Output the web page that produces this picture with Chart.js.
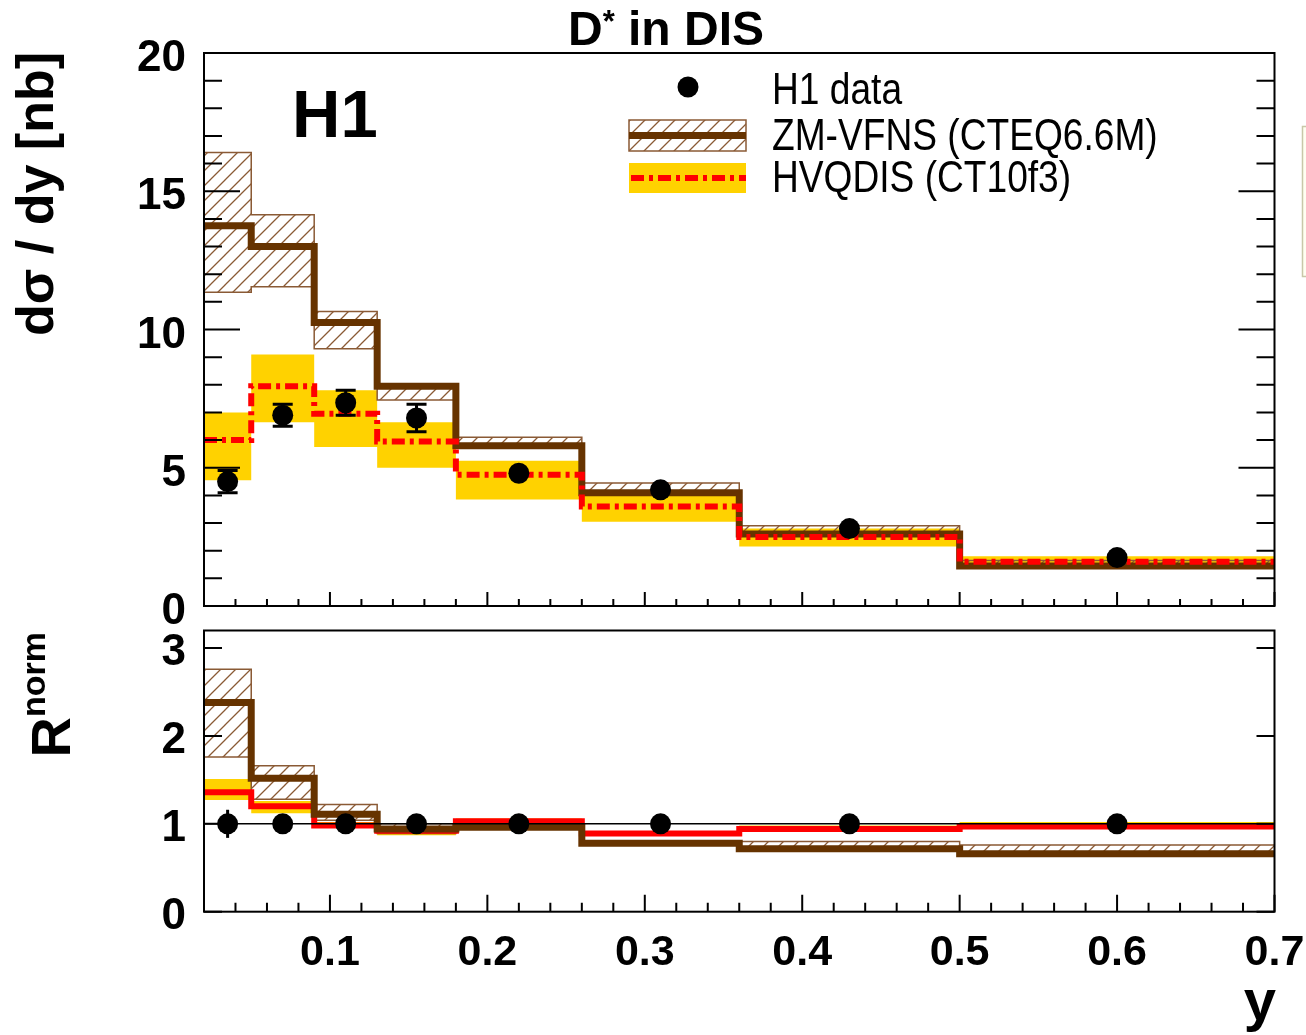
<!DOCTYPE html>
<html>
<head>
<meta charset="utf-8">
<script src="https://cdn.jsdelivr.net/npm/chart.js@4.4.1/dist/chart.umd.min.js"></script>
<style>
  html, body { margin: 0; padding: 0; background: #ffffff; }
  #wrap { position: relative; width: 1306px; height: 1035px; overflow: hidden; background: #fff; }
  canvas { position: absolute; left: 0; }
  #top { top: 0; }
  #bot { top: 620px; }
</style>
</head>
<body>
<div id="wrap">
  <canvas id="bot" width="1306" height="415"></canvas>
  <canvas id="top" width="1306" height="636"></canvas>
</div>
<script>
// ---- binning in inelasticity y ----
const binEdges   = [0.02, 0.05, 0.09, 0.13, 0.18, 0.26, 0.36, 0.50, 0.70];
const binCentres = [0.035, 0.07, 0.11, 0.155, 0.22, 0.31, 0.43, 0.60];

// ---- dsigma/dy [nb] ----
const h1Xsec     = [4.5, 6.9, 7.35, 6.8, 4.8, 4.2, 2.8, 1.75];
const h1XsecErr  = [0.4, 0.4, 0.45, 0.5, 0.2, 0.15, 0.1, 0.08];
const zmXsec     = [13.75, 13.0, 10.25, 7.95, 5.8, 4.1, 2.6, 1.45];
const zmXsecLo   = [11.35, 11.55, 9.3, 7.45, 5.8, 4.1, 2.6, 1.45];
const zmXsecHi   = [16.4, 14.15, 10.65, 7.95, 6.1, 4.45, 2.9, 1.65];
const hvqXsec    = [6.0, 7.95, 6.95, 5.95, 4.75, 3.6, 2.5, 1.6];
const hvqXsecLo  = [4.55, 6.65, 5.75, 5.0, 3.85, 3.05, 2.15, 1.42];
const hvqXsecHi  = [7.0, 9.1, 7.8, 6.65, 5.25, 4.1, 2.8, 1.8];

// ---- normalised ratio R^norm ----
const h1Ratio     = [1, 1, 1, 1, 1, 1, 1, 1];
const h1RatioErr  = [0.16, 0.03, 0.03, 0.03, 0.03, 0.03, 0.03, 0.04];
const zmRatio     = [2.38, 1.52, 1.11, 0.94, 0.96, 0.78, 0.715, 0.66];
const zmRatioLo   = [1.76, 1.28, 1.04, 0.89, 0.96, 0.78, 0.72, 0.67];
const zmRatioHi   = [2.76, 1.66, 1.22, 1.0, 0.99, 0.8, 0.8, 0.76];
const hvqRatio    = [1.36, 1.2, 0.98, 0.92, 1.03, 0.89, 0.94, 0.97];
const hvqRatioLo  = [1.27, 1.12, 0.96, 0.87, 1.0, 0.88, 0.93, 0.96];
const hvqRatioHi  = [1.51, 1.26, 1.02, 0.95, 1.06, 0.9, 0.98, 1.02];

// ---- axis ticks ----
const xMajorTicks  = [0.1, 0.2, 0.3, 0.4, 0.5, 0.6, 0.7];
const xTickLabels  = ['0.1', '0.2', '0.3', '0.4', '0.5', '0.6', '0.7'];
const yTopMajor    = [0, 5, 10, 15, 20];
const yTopLabels   = ['0', '5', '10', '15', '20'];
const yBotMajor    = [0, 1, 2, 3];
const yBotLabels   = ['0', '1', '2', '3'];

const BROWN = '#663300';
const HATCH_BROWN = '#8a5a35';
const YELLOW = '#ffd200';
const RED = '#ff0000';
const SANS = '"Liberation Sans", Arial, Helvetica, sans-serif';

// histogram outline points: one point per left bin edge plus the closing edge
function steps(vals) {
  const pts = vals.map((v, i) => ({ x: binEdges[i], y: v }));
  pts.push({ x: binEdges[binEdges.length - 1], y: vals[vals.length - 1] });
  return pts;
}
function points(vals) {
  return binCentres.map((x, i) => ({ x, y: vals[i] }));
}

// diagonal hatch used for the ZM-VFNS uncertainty band
function hatchPattern() {
  const c = document.createElement('canvas');
  c.width = 15; c.height = 15;
  const g = c.getContext('2d');
  g.strokeStyle = HATCH_BROWN;
  g.lineWidth = 1.3;
  g.beginPath();
  g.moveTo(-2, 17); g.lineTo(17, -2);
  g.moveTo(-2, 2); g.lineTo(2, -2);
  g.moveTo(13, 17); g.lineTo(17, 13);
  g.stroke();
  return g.createPattern(c, 'repeat');
}
const hatch = hatchPattern();

// frame, inward ticks and tick labels in the style of a ROOT pad
const rootFrame = {
  id: 'rootFrame',
  afterDraw(chart, args, o) {
    const { ctx, chartArea: a } = chart;
    const xs = chart.scales.x, ys = chart.scales.y;
    ctx.save();
    ctx.strokeStyle = '#000';
    ctx.lineWidth = 2;
    ctx.beginPath();
    // x ticks along the bottom edge
    for (let k = 1; k < 35; k++) {
      const v = 0.02 * k + 0.02;
      if (v > 0.7 + 1e-9) break;
      const px = xs.getPixelForValue(v);
      const major = xMajorTicks.some(t => Math.abs(t - v) < 1e-6);
      const len = major ? o.xMajorLen : o.xMinorLen;
      ctx.moveTo(px, a.bottom); ctx.lineTo(px, a.bottom - len);
    }
    // y ticks on left and right edges
    const yMin = ys.min, yMax = ys.max;
    for (let v = yMin; v <= yMax + 1e-9; v += o.yMinorStep) {
      const py = ys.getPixelForValue(v);
      const major = o.yMajor.some(t => Math.abs(t - v) < 1e-6);
      if (!major && !o.yMinorShown) continue;
      const len = major ? o.yMajorLen : o.yMinorLen;
      ctx.moveTo(a.left, py); ctx.lineTo(a.left + len, py);
      ctx.moveTo(a.right, py); ctx.lineTo(a.right - len, py);
    }
    ctx.stroke();
    ctx.strokeRect(a.left, a.top, a.right - a.left, a.bottom - a.top);

    ctx.fillStyle = '#000';
    ctx.font = 'bold ' + o.yFont + 'px ' + SANS;
    ctx.textAlign = 'right';
    ctx.textBaseline = 'middle';
    o.yMajor.forEach((v, i) => {
      ctx.fillText(o.yLabels[i], o.yLabelRight, ys.getPixelForValue(v) + o.yLabelShift);
    });
    if (o.xLabels) {
      ctx.font = 'bold ' + o.xFont + 'px ' + SANS;
      ctx.textAlign = 'center';
      ctx.textBaseline = 'middle';
      xMajorTicks.forEach((v, i) => {
        ctx.fillText(xTickLabels[i], xs.getPixelForValue(v), a.bottom + o.xLabelOffset);
      });
    }
    ctx.restore();
  }
};

// vertical error bars on the data points
const errorBars = {
  id: 'errorBars',
  afterDatasetsDraw(chart, args, o) {
    const { ctx } = chart;
    const xs = chart.scales.x, ys = chart.scales.y;
    ctx.save();
    ctx.strokeStyle = '#000';
    ctx.lineWidth = 3;
    o.values.forEach((v, i) => {
      const px = xs.getPixelForValue(binCentres[i]);
      const y1 = ys.getPixelForValue(v + o.errors[i]);
      const y2 = ys.getPixelForValue(v - o.errors[i]);
      ctx.beginPath();
      ctx.moveTo(px, y1); ctx.lineTo(px, y2);
      if (o.caps && (y2 - y1) / 2 > 9) {
        ctx.moveTo(px - 10, y1); ctx.lineTo(px + 10, y1);
        ctx.moveTo(px - 10, y2); ctx.lineTo(px + 10, y2);
      }
      ctx.stroke();
    });
    ctx.restore();
  }
};

// titles, legend and labels of the upper pad
const upperText = {
  id: 'upperText',
  afterDraw(chart) {
    const ctx = chart.ctx;
    ctx.save();
    ctx.fillStyle = '#000';
    ctx.textBaseline = 'alphabetic';

    // pad title  D* in DIS
    ctx.font = 'bold 48px ' + SANS;
    const wD = ctx.measureText('D').width;
    const wRest = ctx.measureText(' in DIS').width;
    ctx.font = 'bold 31px ' + SANS;
    const wStar = ctx.measureText('*').width;
    let x0 = 666 - (wD + wStar + wRest) / 2;
    ctx.font = 'bold 48px ' + SANS;
    ctx.textAlign = 'left';
    ctx.fillText('D', x0, 45);
    ctx.font = 'bold 31px ' + SANS;
    ctx.fillText('*', x0 + wD, 32);
    ctx.font = 'bold 48px ' + SANS;
    ctx.fillText(' in DIS', x0 + wD + wStar, 45);

    // experiment label
    ctx.font = 'bold 67px ' + SANS;
    ctx.fillText('H1', 292, 137);

    // y axis title
    ctx.save();
    ctx.translate(53, 52);
    ctx.rotate(-Math.PI / 2);
    ctx.textAlign = 'right';
    ctx.font = 'bold 52px ' + SANS;
    ctx.fillText('d\u03c3 / dy [nb]', 0, 0);
    ctx.restore();

    // legend
    ctx.beginPath();
    ctx.arc(688, 87, 10.5, 0, Math.PI * 2);
    ctx.fill();

    ctx.fillStyle = hatch;
    ctx.fillRect(629, 120, 117, 31);
    ctx.strokeStyle = HATCH_BROWN;
    ctx.lineWidth = 1.5;
    ctx.strokeRect(629, 120, 117, 31);
    ctx.strokeStyle = BROWN;
    ctx.lineWidth = 7;
    ctx.beginPath(); ctx.moveTo(629, 135.5); ctx.lineTo(746, 135.5); ctx.stroke();

    ctx.fillStyle = YELLOW;
    ctx.fillRect(629, 163, 117, 30);
    ctx.strokeStyle = RED;
    ctx.lineWidth = 6;
    ctx.setLineDash([13, 5, 4, 5]);
    ctx.beginPath(); ctx.moveTo(631, 178); ctx.lineTo(746, 178); ctx.stroke();
    ctx.setLineDash([]);

    ctx.fillStyle = '#000';
    ctx.font = '45px ' + SANS;
    const legendText = ['H1 data', 'ZM-VFNS (CTEQ6.6M)', 'HVQDIS (CT10f3)'];
    const legendY = [104, 150, 192];
    legendText.forEach((t, i) => {
      ctx.save();
      ctx.translate(772, legendY[i]);
      ctx.scale(0.825, 1);
      ctx.fillText(t, 0, 0);
      ctx.restore();
    });

    // neighbouring box at the pad edge
    ctx.fillStyle = '#fffff2';
    ctx.fillRect(1302, 126, 10, 150);
    ctx.strokeStyle = '#c8c8a8';
    ctx.lineWidth = 1.5;
    ctx.strokeRect(1302.5, 126.5, 10, 150);
    ctx.restore();
  }
};

// labels of the lower pad
const lowerText = {
  id: 'lowerText',
  afterDraw(chart) {
    const ctx = chart.ctx;
    ctx.save();
    ctx.fillStyle = '#000';
    ctx.textBaseline = 'alphabetic';

    // R^norm, rotated
    ctx.save();
    ctx.translate(70, 12);
    ctx.rotate(-Math.PI / 2);
    ctx.font = 'bold 34px ' + SANS;
    const wn = ctx.measureText('norm').width;
    ctx.font = 'bold 56px ' + SANS;
    const wr = ctx.measureText('R').width;
    ctx.textAlign = 'left';
    ctx.fillText('R', -(wn + wr), 0);
    ctx.font = 'bold 34px ' + SANS;
    ctx.fillText('norm', -wn, -25);
    ctx.restore();

    // x axis title
    ctx.font = 'bold 58px ' + SANS;
    ctx.textAlign = 'right';
    ctx.fillText('y', 1276, 400);
    ctx.restore();
  }
};

function baseOptions(yMax, pad) {
  return {
    responsive: false,
    animation: false,
    events: [],
    layout: { padding: pad },
    scales: {
      x: { type: 'linear', min: 0.02, max: 0.7, display: false },
      y: { type: 'linear', min: 0, max: yMax, display: false }
    },
    elements: { line: { tension: 0 }, point: { radius: 0 } },
    plugins: { legend: { display: false }, tooltip: { enabled: false } }
  };
}

function line(data, extra) {
  return Object.assign({
    data: data, stepped: true, pointRadius: 0, fill: false, clip: 0,
    borderColor: 'rgba(0,0,0,0)', borderWidth: 0, backgroundColor: 'rgba(0,0,0,0)'
  }, extra);
}

// ---------------- upper pad: cross section ----------------
const topOpts = baseOptions(20, { left: 204, right: 31.5, top: 53, bottom: 30 });
topOpts.plugins.rootFrame = {
  yMajor: yTopMajor, yLabels: yTopLabels, yMinorStep: 1, yMinorShown: true,
  yMajorLen: 36, yMinorLen: 18, xMajorLen: 14, xMinorLen: 7,
  yFont: 44, yLabelRight: 186, yLabelShift: 6, xLabels: false
};
topOpts.plugins.errorBars = { values: h1Xsec, errors: h1XsecErr, caps: true };

new Chart(document.getElementById('top'), {
  type: 'line',
  data: {
    datasets: [
      { label: 'H1 data', type: 'scatter', data: points(h1Xsec), pointRadius: 10.5,
        backgroundColor: '#000', borderWidth: 0, order: 0 },
      line(steps(hvqXsec), { label: 'HVQDIS (CT10f3)', borderColor: RED, borderWidth: 6,
        borderDash: [13, 5, 4, 5], order: 1 }),
      line(steps(zmXsec), { label: 'ZM-VFNS (CTEQ6.6M)', borderColor: BROWN, borderWidth: 7, order: 2 }),
      line(steps(zmXsecLo), { label: 'ZM-VFNS low', borderColor: HATCH_BROWN, borderWidth: 1.5, order: 3 }),
      line(steps(zmXsecHi), { label: 'ZM-VFNS high', borderColor: HATCH_BROWN, borderWidth: 1.5,
        fill: '-1', backgroundColor: hatch, order: 3 }),
      line(steps(hvqXsecLo), { label: 'HVQDIS low', order: 4 }),
      line(steps(hvqXsecHi), { label: 'HVQDIS high', fill: '-1', backgroundColor: YELLOW, order: 4 })
    ]
  },
  options: topOpts,
  plugins: [rootFrame, errorBars, upperText]
});

// ---------------- lower pad: normalised ratio ----------------
const botOpts = baseOptions(3.2, { left: 204, right: 31.5, top: 10, bottom: 123.3 });
botOpts.plugins.rootFrame = {
  yMajor: yBotMajor, yLabels: yBotLabels, yMinorStep: 1, yMinorShown: false,
  yMajorLen: 18, yMinorLen: 9, xMajorLen: 17, xMinorLen: 9,
  yFont: 44, yLabelRight: 186, yLabelShift: 5,
  xLabels: true, xFont: 43, xLabelOffset: 41
};
botOpts.plugins.errorBars = { values: h1Ratio, errors: h1RatioErr, caps: false };

new Chart(document.getElementById('bot'), {
  type: 'line',
  data: {
    datasets: [
      { label: 'H1 data', type: 'scatter', data: points(h1Ratio), pointRadius: 10.5,
        backgroundColor: '#000', borderWidth: 0, order: 0 },
      line([{ x: 0.02, y: 1 }, { x: 0.7, y: 1 }], { label: 'unity', stepped: false,
        borderColor: '#000', borderWidth: 1.5, order: 0.5 }),
      line(steps(zmRatio), { label: 'ZM-VFNS (CTEQ6.6M)', borderColor: BROWN, borderWidth: 7, order: 1 }),
      line(steps(hvqRatio), { label: 'HVQDIS (CT10f3)', borderColor: RED, borderWidth: 6, order: 2 }),
      line(steps(zmRatioLo), { label: 'ZM-VFNS low', borderColor: HATCH_BROWN, borderWidth: 1.5, order: 3 }),
      line(steps(zmRatioHi), { label: 'ZM-VFNS high', borderColor: HATCH_BROWN, borderWidth: 1.5,
        fill: '-1', backgroundColor: hatch, order: 3 }),
      line(steps(hvqRatioLo), { label: 'HVQDIS low', order: 4 }),
      line(steps(hvqRatioHi), { label: 'HVQDIS high', fill: '-1', backgroundColor: YELLOW, order: 4 })
    ]
  },
  options: botOpts,
  plugins: [rootFrame, errorBars, lowerText]
});
</script>
</body>
</html>
